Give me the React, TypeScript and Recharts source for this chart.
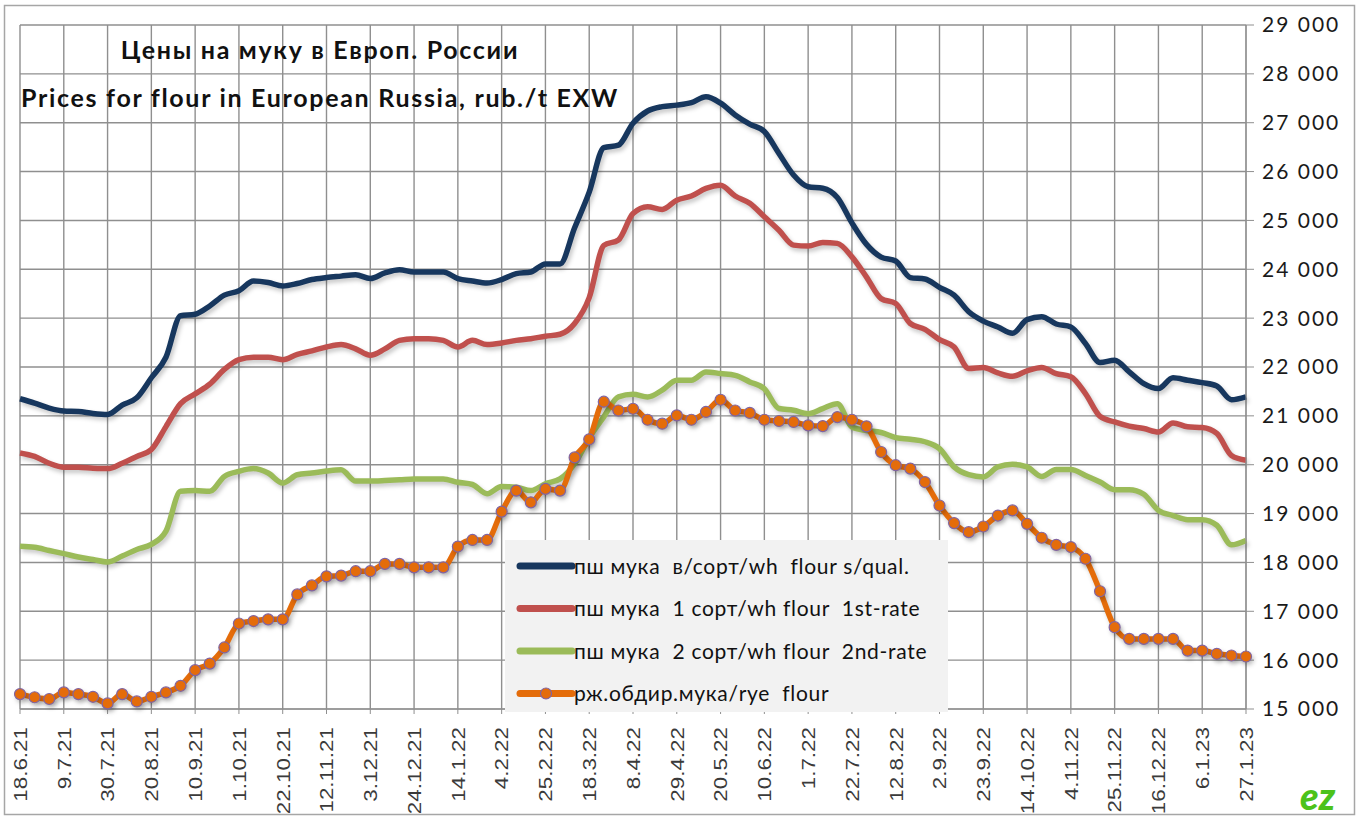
import React from "react";
import { CartesianGrid, Line, LineChart, XAxis, YAxis } from "recharts";

// weekly dates, 18.6.21 .. 27.1.23
const dates = [
  "18.6.21", "25.6.21", "2.7.21", "9.7.21", "16.7.21", "23.7.21", "30.7.21", "6.8.21", "13.8.21", "20.8.21",
  "27.8.21", "3.9.21", "10.9.21", "17.9.21", "24.9.21", "1.10.21", "8.10.21", "15.10.21", "22.10.21", "29.10.21",
  "5.11.21", "12.11.21", "19.11.21", "26.11.21", "3.12.21", "10.12.21", "17.12.21", "24.12.21", "31.12.21", "7.1.22",
  "14.1.22", "21.1.22", "28.1.22", "4.2.22", "11.2.22", "18.2.22", "25.2.22", "4.3.22", "11.3.22", "18.3.22",
  "25.3.22", "1.4.22", "8.4.22", "15.4.22", "22.4.22", "29.4.22", "6.5.22", "13.5.22", "20.5.22", "27.5.22",
  "3.6.22", "10.6.22", "17.6.22", "24.6.22", "1.7.22", "8.7.22", "15.7.22", "22.7.22", "29.7.22", "5.8.22",
  "12.8.22", "19.8.22", "26.8.22", "2.9.22", "9.9.22", "16.9.22", "23.9.22", "30.9.22", "7.10.22", "14.10.22",
  "21.10.22", "28.10.22", "4.11.22", "11.11.22", "18.11.22", "25.11.22", "2.12.22", "9.12.22", "16.12.22", "23.12.22",
  "30.12.22", "6.1.23", "13.1.23", "20.1.23", "27.1.23",
];

const wheatTop = [
  21350, 21260, 21160, 21100, 21090, 21050, 21030, 21220, 21370, 21780,
  22200, 23050, 23080, 23250, 23470, 23560, 23760, 23730, 23660, 23710,
  23790, 23830, 23860, 23890, 23810, 23925, 23990, 23945, 23945, 23945,
  23810, 23760, 23720, 23790, 23910, 23945, 24110, 24110, 24850, 25580,
  26490, 26540, 26990, 27240, 27330, 27360, 27410, 27530, 27400, 27160,
  26970, 26820, 26370, 25930, 25690, 25660, 25470, 24950, 24510, 24250,
  24170, 23830, 23800, 23630, 23470, 23130, 22940, 22820, 22690, 22970,
  23030, 22880, 22820, 22480, 22090, 22140, 21900, 21660, 21560, 21780,
  21730, 21680, 21610, 21330, 21390,
];

const wheatFirst = [
  20240, 20170, 20030, 19950, 19950, 19930, 19920, 20030, 20170, 20310,
  20780, 21250, 21450, 21650, 21950, 22150, 22200, 22200, 22150, 22260,
  22330, 22410, 22460, 22370, 22240, 22370, 22545, 22580, 22580, 22545,
  22410, 22545, 22460, 22490, 22545, 22580, 22630, 22670, 22890, 23420,
  24490, 24600, 25140, 25280, 25225, 25415, 25500, 25655, 25720, 25500,
  25350, 25075, 24800, 24495, 24475, 24550, 24530, 24255, 23840, 23400,
  23300, 22890, 22770, 22560, 22410, 21970, 21990, 21880, 21810, 21920,
  21990, 21865, 21800, 21455, 20990, 20875, 20790, 20740, 20670, 20855,
  20775, 20760, 20640, 20190, 20090,
];

const wheatSecond = [
  18330, 18310, 18245, 18180, 18110, 18060, 18010, 18130, 18265, 18370,
  18640, 19455, 19470, 19455, 19760, 19865, 19920, 19830, 19625, 19795,
  19830, 19870, 19895, 19665, 19665, 19675, 19690, 19710, 19710, 19710,
  19640, 19595, 19405, 19555, 19540, 19470, 19610, 19710, 20020, 20550,
  20980, 21390, 21440, 21385, 21525, 21730, 21730, 21900, 21865, 21830,
  21695, 21555, 21150, 21115, 21045, 21150, 21250, 20770, 20700, 20660,
  20555, 20520, 20470, 20330, 19955, 19795, 19750, 19955, 20010, 19955,
  19760, 19900, 19900, 19780, 19645, 19490, 19490, 19395, 19065, 18960,
  18875, 18875, 18760, 18360, 18450,
];

const rye = [
  15305, 15240, 15205, 15340, 15305, 15250, 15115, 15305, 15155, 15250,
  15340, 15475, 15795, 15930, 16260, 16750, 16800, 16835, 16835, 17345,
  17530, 17715, 17730, 17820, 17820, 17970, 17970, 17900, 17900, 17900,
  18325, 18460, 18460, 19040, 19470, 19230, 19505, 19470, 20150, 20520,
  21290, 21110, 21145, 20920, 20840, 21010, 20920, 21080, 21330, 21110,
  21060, 20920, 20895, 20875, 20805, 20790, 20975, 20920, 20785, 20260,
  19990, 19920, 19645, 19165, 18805, 18620, 18735, 18960, 19065, 18790,
  18505, 18360, 18315, 18075, 17410, 16675, 16435, 16435, 16435, 16435,
  16195, 16195, 16130, 16095, 16075,
];

const yTicks = [15000, 16000, 17000, 18000, 19000, 20000, 21000, 22000, 23000, 24000, 25000, 26000, 27000, 28000, 29000];

const series = [
  { key: "top", name: "пш мука  в/сорт/wh  flour s/qual.", color: "#17375E", dots: false },
  { key: "first", name: "пш мука  1 сорт/wh flour  1st-rate", color: "#C0504D", dots: false },
  { key: "second", name: "пш мука  2 сорт/wh flour  2nd-rate", color: "#9BBB59", dots: false },
  { key: "rye", name: "рж.обдир.мука/rye  flour", color: "#E46C0A", dots: true },
];

const data = dates.map((d, i) => ({
  date: d,
  top: wheatTop[i],
  first: wheatFirst[i],
  second: wheatSecond[i],
  rye: rye[i],
}));

const fmtThousands = (v: number) => `${Math.floor(v / 1000)} ${String(v % 1000).padStart(3, "0")}`;

// the source labels are stretched along their length
const XTick = ({ x, y, payload }: any) => (
  <text
    transform={`translate(${x} ${y}) rotate(-90) scale(1.18 1)`}
    textAnchor="end"
    dy="0.36em"
    fontFamily="'Liberation Sans', Arial, sans-serif"
    fontSize={19}
    fill="#3a3a3a"
  >
    {payload.value}
  </text>
);

const LegendBox = () => (
  <div style={{ position: "absolute", left: 505, top: 540, width: 443, height: 172, background: "#f2f2f2" }}>
    <svg width={443} height={172}>
      {series.map((s, i) => {
        const cy = 26 + i * 42.5;
        return (
          <g key={s.key}>
            <line x1={15} x2={67} y1={cy} y2={cy} stroke={s.color} strokeWidth={7} strokeLinecap="round" />
            {s.dots && <circle cx={41} cy={cy} r={5.5} fill={s.color} stroke="#8064A2" strokeWidth={1.2} />}
            <text
              x={69}
              y={cy}
              dy="0.36em"
              fontFamily="Lato, sans-serif"
              fontSize={21}
              letterSpacing={0.7}
              fill="#111"
              style={{ whiteSpace: "pre" }}
            >
              {s.name}
            </text>
          </g>
        );
      })}
    </svg>
  </div>
);

export default function App() {
  return (
    <div style={{ position: "absolute", left: 0, top: 0, width: 1359, height: 819, background: "#fff" }}>
      <style>{`.recharts-line-curve, .recharts-line-dots { filter: drop-shadow(2px 3px 2px rgba(0,0,0,0.22)); }`}</style>
      <LineChart width={1359} height={819} data={data} margin={{ top: 25, right: 13, left: 20, bottom: 10 }}>
        <CartesianGrid stroke="#8f8f8f" strokeWidth={1.4} />
        <XAxis
          dataKey="date"
          interval={2}
          height={100}
          tickSize={5}
          tickMargin={13}
          stroke="#8f8f8f"
          tick={<XTick />}
        />
        <YAxis
          orientation="right"
          width={100}
          domain={[15000, 29000]}
          ticks={yTicks}
          tickSize={8}
          tickMargin={8}
          stroke="#8f8f8f"
          tickFormatter={fmtThousands}
          tick={{ fontFamily: "Lato, sans-serif", fontSize: 21, fill: "#1a1a1a", letterSpacing: 2 }}
        />
        {series.map((s) => (
          <Line
            key={s.key}
            dataKey={s.key}
            name={s.name}
            type="monotone"
            stroke={s.color}
            strokeWidth={5.5}
            dot={s.dots ? { r: 5.5, fill: s.color, stroke: "#8064A2", strokeWidth: 1.2 } : false}
            activeDot={false}
            isAnimationActive={false}
          />
        ))}
      </LineChart>
      <LegendBox />
      <div
        style={{
          position: "absolute",
          left: 20,
          top: 25,
          width: 600,
          textAlign: "center",
          fontFamily: "Lato, sans-serif",
          fontWeight: 700,
          fontSize: 25,
          letterSpacing: 1.7,
          color: "#111",
          lineHeight: "48px",
        }}
      >
        <div>Цены на муку в Европ. России</div>
        <div>Prices for flour in European Russia, rub./t EXW</div>
      </div>
      <svg style={{ position: "absolute", left: 0, top: 0 }} width={1359} height={819} pointerEvents="none">
        <rect x={4.5} y={5.5} width={1350} height={809} fill="none" stroke="#a6a6a6" strokeWidth={1.5} />
        <text x={1300} y={810} fontFamily="Lato, sans-serif" fontWeight={900} fontStyle="italic" fontSize={38} fill="#4cc21a">
          ez
        </text>
      </svg>
    </div>
  );
}
